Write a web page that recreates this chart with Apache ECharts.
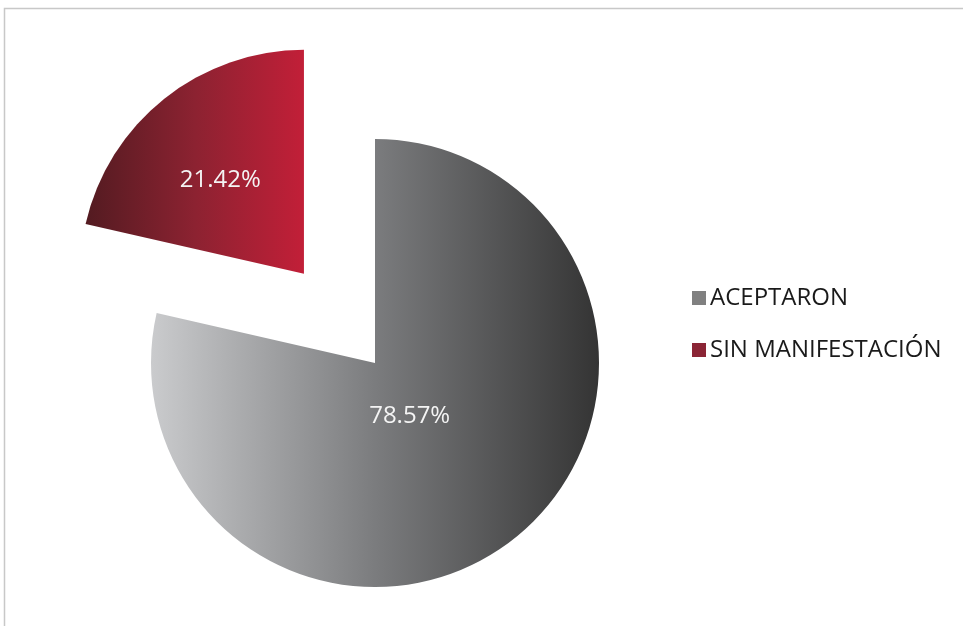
<!DOCTYPE html>
<html>
<head>
<meta charset="utf-8">
<script src="https://cdn.jsdelivr.net/npm/echarts@6/dist/echarts.min.js"></script>
<style>
html,body{margin:0;padding:0;background:#fff;}
#chart{width:963px;height:626px;}
</style>
</head>
<body>
<div id="chart"></div>
<script>
const categories = ['ACEPTARON', 'SIN MANIFESTACIÓN'];
const values = [78.57, 21.42];
const legendColors = ['#808080', '#8b2535'];

const gradients = [
  new echarts.graphic.LinearGradient(0, 0, 1, 0, [
    {offset: 0, color: '#cacbcd'},
    {offset: 0.5, color: '#7b7c7e'},
    {offset: 1, color: '#343434'}
  ]),
  new echarts.graphic.LinearGradient(0, 0, 1, 0, [
    {offset: 0, color: '#531b21'},
    {offset: 0.5, color: '#8c2231'},
    {offset: 1, color: '#c21f38'}
  ])
];

const chart = echarts.init(document.getElementById('chart'), null, {renderer: 'canvas'});
chart.setOption({
  animation: false,
  backgroundColor: '#fff',
  graphic: [{
    type: 'polyline',
    shape: {points: [[4.5, 640], [4.5, 8.5], [970, 8.5]]},
    style: {stroke: '#c8c8c8', lineWidth: 1.5, fill: null},
    silent: true
  }],
  legend: {
    orient: 'vertical',
    left: 687,
    top: 281,
    icon: 'rect',
    itemWidth: 14,
    itemHeight: 14,
    itemGap: 28,
    selectedMode: false,
    textStyle: {fontFamily: 'Open Sans', fontSize: 24, color: '#1a1a1a', lineHeight: 24, padding: [0, 0, 0, -1]},
    data: categories.map((c, i) => ({name: c, itemStyle: {color: legendColors[i]}}))
  },
  series: [{
    type: 'pie',
    center: [375, 363],
    radius: [0, 224],
    startAngle: 90,
    clockwise: true,
    selectedMode: 'single',
    selectedOffset: 114,
    emphasis: {disabled: true},
    label: {
      show: true,
      position: 'inside',
      formatter: '{c}%',
      fontFamily: 'Open Sans',
      fontSize: 24,
      color: '#f4f4f4'
    },
    labelLine: {show: false},
    labelLayout: function (p) {
      if (p.dataIndex === 0) return {dx: -37, dy: -37};
      return {dx: -12, dy: -4};
    },
    data: categories.map((c, i) => ({
      name: c,
      value: values[i],
      selected: i === 1,
      itemStyle: {color: gradients[i]}
    }))
  }]
});
</script>
</body>
</html>
